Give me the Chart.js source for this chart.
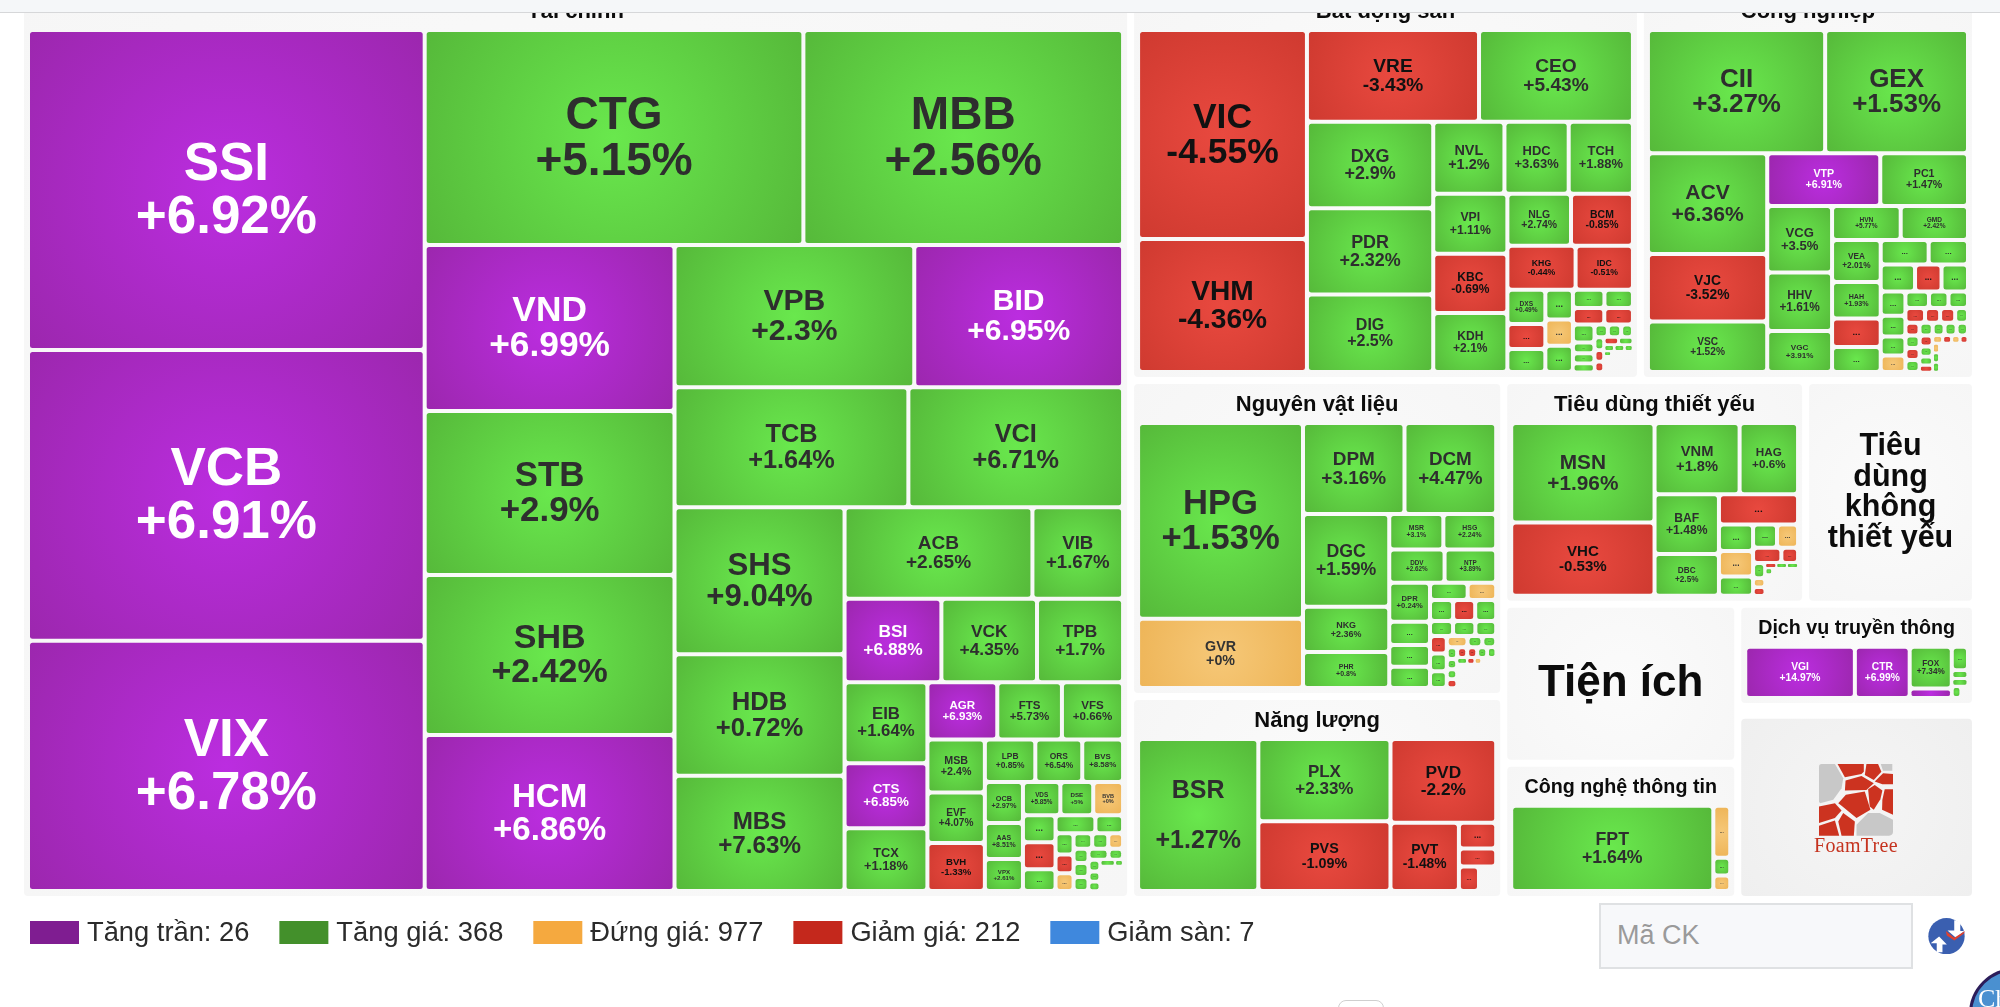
<!DOCTYPE html>
<html>
<head>
<meta charset="utf-8">
<title>Bản đồ thị trường</title>
<script src="https://cdn.jsdelivr.net/npm/chart.js@4/dist/chart.umd.min.js"></script>
<style>
  html, body { margin: 0; padding: 0; background: #fff; overflow: hidden; }
  #wrap { position: relative; width: 2000px; height: 1007px; overflow: hidden; font-family: "Liberation Sans", Arial, sans-serif; }
  #heatmap { position: absolute; left: 0; top: 0; }
  #search { position: absolute; left: 1599px; top: 903px; width: 310px; height: 62px; border: 2px solid #dfe1e3; background: #f7f8fa; color: #9a9a9a; font-size: 27px; line-height: 60px; text-indent: 16px; }
  #logo { position: absolute; left: 1819px; top: 763px; }
  #logoText { position: absolute; left: 1782px; width: 148px; top: 834px; text-align: center; color: #c5331f; font: 20px "Liberation Serif", serif; letter-spacing: 0.3px; }
  #brand { position: absolute; left: 1928px; top: 918px; }
  #chat { position: absolute; left: 1969px; top: 968px; width: 92px; height: 92px; box-sizing: border-box; border-radius: 50%; border: 3px solid #2c1d5a; background: #4a90d0; color: #fff; font: 26px "Liberation Serif", serif; padding: 13px 0 0 6px; }
  #stub { position: absolute; left: 1338px; top: 1000px; width: 44px; height: 20px; border: 1px solid #cfcfcf; border-radius: 8px; background: #fff; }
</style>
</head>
<body>
<div id="wrap">
  <canvas id="heatmap" width="2000" height="1007"></canvas>
  <svg id="logo" width="74" height="73" viewBox="57 40 223 218">
    <g fill="#c8c8c8">
      <path d="M57 50Q57 42 65 42L105 42L130 85L125 115L100 150L60 160L57 155Z"/>
      <path d="M243 42L278 42L278 62L250 62Z"/>
      <path d="M170 225L205 190L240 190L280 210L280 245Q280 258 268 258L170 258Z"/>
    </g>
    <g fill="#cc3320">
      <path d="M113 42L192 42L192 65L185 72L135 82Z"/>
      <path d="M200 42L235 42L245 65L222 90L195 75Z"/>
      <path d="M250 70L280 72L280 103L248 103L225 95Z"/>
      <path d="M137 92L185 78L222 100L200 120L135 122Z"/>
      <path d="M205 118L225 105L248 122L242 148L222 180L210 170Z"/>
      <path d="M255 118L280 118L280 195L247 180L248 150Z"/>
      <path d="M115 160L138 135L195 125L212 180L170 205L125 168Z"/>
      <path d="M57 170L105 160L125 182L105 205L57 220Z"/>
      <path d="M57 228L105 212L118 258L57 258Z"/>
      <path d="M130 190L165 215L162 258L125 258L115 215Z"/>
    </g>
  </svg>
  <div id="logoText">FoamTree</div>
  <div id="search">Mã CK</div>
  <svg id="brand" width="37" height="36" viewBox="22 33 110 107">
    <circle cx="77" cy="87" r="54" fill="#3a5fb0"/>
    <path d="M30 108L55 88L78 112L65 112L65 135L48 135L48 108Z" fill="#fff"/>
    <path d="M100 40L118 45L118 72L130 72L105 92L80 70L100 70Z" fill="#fff"/>
    <path d="M75 72L100 92L132 72L128 80L100 100L78 85Z" fill="#e0402f"/>
  </svg>
  <div id="stub"></div>
  <div id="chat">Ch</div>
</div>

<script>
// sectors, laid out by weight inside the plot bounds
const sectorTitles = ['Tài chính', 'Bất động sản', 'Công nghiệp', 'Nguyên vật liệu', 'Năng lượng', 'Tiêu dùng thiết yếu', 'Tiêu dùng không thiết yếu', 'Tiện ích', 'Công nghệ thông tin', 'Dịch vụ truyền thông', '', ''];
const sectorWeights = [10123, 2004, 1317, 1179, 757, 675, 380, 372, 319, 243, 21, 438];
const sectorSplits = [1, [2, [2, [2, [2, 3]]]]];

// each sector: tickers, % change, weight per cell, colour class per cell, split tree.
// cells past the end of the tickers list are the unlabelled "..." ones.
// p = tran, g = tang, o = dung, r = giam, x = empty space
const financeNames = ['SSI','VCB','VIX','CTG','MBB','VND','STB','SHB','HCM','VPB','BID','TCB','VCI','SHS','HDB','MBS','ACB','VIB','BSI','VCK','TPB','EIB','CTS','TCX','AGR','FTS','VFS','MSB','EVF','BVH','LPB','ORS','BVS','OCB','AAS','VPX','VDS','DSE','BVB'];
const financeChanges = [6.92,6.91,6.78,5.15,2.56,6.99,2.9,2.42,6.86,2.3,6.95,1.64,6.71,9.04,0.72,7.63,2.65,1.67,6.88,4.35,1.7,1.64,6.85,1.18,6.93,5.73,0.66,2.4,4.07,-1.33,0.85,6.54,8.58,2.97,8.51,2.61,5.85,5,0];
const financeWeights = [1270,1155,993,815,688,415,410,400,390,341,297,281,258,250,207,196,172,83,81,80,72,67,54,52,40,37,35,30.5,29,27.6,21.5,20,17.4,15.6,13.7,12.2,12.4,10.9,9.9,8.8,8.8,7.1,7.2,5,3.8,3.4,3.2,2.9,2.5,2.3,2.1,2.1,2.1,2.2,1.6,1.4,1.2,1.1,0.9,0.5,5.7];
const financeKinds = 'ppp gg pggp gp gg ggg gg pgg gpg pgg ggr ggg ggg ggo grg gg gro ggo ggg gg ggg ggx';
const financeTree = [3,[2,[4,[2,2,[3,[2,3,[3,[3,[3,[3,[3,[3,[3,[2,[3,[3,[3,[2,[3,[2,1]]]]]]]]]]]]]]]]]]]];

const realEstateNames = ['VIC','VHM','VRE','CEO','DXG','PDR','DIG','NVL','HDC','TCH','VPI','KBC','KDH','NLG','BCM','KHG','IDC','DXS'];
const realEstateChanges = [-4.55,-4.36,-3.43,5.43,2.9,2.32,2.5,1.2,3.63,1.88,1.11,-0.69,2.1,2.74,-0.85,-0.44,-0.51,0.49];
const realEstateWeights = [317,202,142,127,98,98,88,46,41.5,41.5,40,39.4,39.4,29.7,28.9,27,22.7,11.7,8.5,7.9,7.4,6.5,6.5,5.2,4.7,4.6,4.2,3.5,2.1,2,1.65,1.55,1.55,1.37,1.1,1,0.9,0.95,0.95,0.6,0.6,0.5,0.28,1,4.1];
const realEstateKinds = 'rr rg ggg ggg grg gr rr grg gog gg rr gggg ggg grr rg ggg gx x';
const realEstateTree = [2,[2,[3,[3,[3,[2,2,[3,3,[2,2,[4,[3,[3,[2,3,[2,1]]]]]]]]]]]]];

const industryNames = ['CII','GEX','ACV','VJC','VSC','VTP','PC1','VCG','HHV','VGC','HVN','GMD','VEA','HAH'];
const industryChanges = [3.27,1.53,6.36,-3.52,1.52,6.91,1.47,3.5,1.61,3.91,5.77,2.42,2.01,1.93];
const industryWeights = [196,158,108,72.4,54.2,53.6,41.6,38.8,34,24,21,20.6,18.3,16,12.4,11,10.6,8.7,8.3,6.4,6.4,5.4,4.6,4.2,3.7,3.5,2.9,2.9,2.6,2,2,1.7,1.6,1.5,1.35,1.37,1.3,1.6,1.5,1.55,1.3,1.2,1,0.8,0.7,0.63,0.59,0.56,0.58,0.58,0.58,7.4];
const industryKinds = 'gg grg pg ggg gg ggrg gg grg gggo ggg rrrg rgggg grg rggr oror oggx';
const industryTree = [[2,[3,[2,[3,[2,[4,[2,3,[4,[3,4,5,[3,4,[4,[3,1]]]]]]]]]]]]];

const materialsNames = ['HPG','GVR','DPM','DCM','DGC','NKG','PHR','MSR','HSG','DDV','NTP','DPR'];
const materialsChanges = [1.53,0,3.16,4.47,1.59,2.36,0.8,3.1,2.24,2.62,3.89,0.24];
const materialsWeights = [290,103,83,75,72,35,28,17.3,16.9,16.5,15.4,14.3,8.5,8,7.8,5.8,4.4,4.4,4.2,4,3.1,3,2.8,2.65,2.65,2.55,2.1,1.5,1.4,1.1,0.95,0.93,0.83,0.96,0.96,0.96,0.86,0.54,0.4,0.36,0.8,8.5];
const materialsKinds = 'go gg ggg gg gg gggg go grg ggg rgg ogg gggr rrgg grox x';
const materialsTree = [2,[2,[3,[2,2,[4,[2,3,3,[3,[3,[4,[4,4,1]]]]]]]]]];

const energyNames = ['BSR','PLX','PVS','PVD','PVT'];
const energyChanges = [1.27,2.33,-1.09,-2.2,-1.48];
const energyWeights = [182,108,92,88,46.6,9.6,6.7,4.9,4.2];
const energyKinds = 'ggrrrrrrx';
const energyTree = [1,2,[1,[1,[1,1,[1,1]]]]];

const staplesNames = ['MSN','VHC','VNM','HAG','BAF','DBC'];
const staplesChanges = [1.96,-0.53,1.8,0.6,1.48,2.5];
const staplesWeights = [128.6,94.7,54.7,37.6,34.7,24.2,21.6,8.1,7.9,5.9,5,4.4,3.9,2.3,1.65,1,0.92,0.5,0.48,0.5,0.44,1.54,6.24];
const staplesKinds = 'gr gg gg r gog go rr gor rgg gx x';
const staplesTree = [2,[2,[2,[1,[3,[2,2,[3,[3,[1,1],1]]]]]]]];

const techNames = ['FPT'];
const techChanges = [1.64];
const techWeights = [172,8.8,3,2.6];
const techKinds = 'gogo';
const techTree = [1,3];

const telecomNames = ['VGI','CTR','FOX'];
const telecomChanges = [14.97,6.99,7.34];
const telecomWeights = [50,25,15.7,3.5,3.4,1.2,1.1,1,0.7];
const telecomKinds = 'ppgpggggx';
const telecomTree = [1,1,2,[1,1,1,[1,1]]];

// sector title -> its cells
const sectorCells = {
  'Tài chính': [financeNames, financeChanges, financeWeights, financeKinds, financeTree],
  'Bất động sản': [realEstateNames, realEstateChanges, realEstateWeights, realEstateKinds, realEstateTree],
  'Công nghiệp': [industryNames, industryChanges, industryWeights, industryKinds, industryTree],
  'Nguyên vật liệu': [materialsNames, materialsChanges, materialsWeights, materialsKinds, materialsTree],
  'Năng lượng': [energyNames, energyChanges, energyWeights, energyKinds, energyTree],
  'Tiêu dùng thiết yếu': [staplesNames, staplesChanges, staplesWeights, staplesKinds, staplesTree],
  'Công nghệ thông tin': [techNames, techChanges, techWeights, techKinds, techTree],
  'Dịch vụ truyền thông': [telecomNames, telecomChanges, telecomWeights, telecomKinds, telecomTree],
};

const legendLabels = ['Tăng trần', 'Tăng giá', 'Đứng giá', 'Giảm giá', 'Giảm sàn'];
const legendCounts = [26, 368, 977, 212, 7];
const legendColors = ['#7f1d91', '#43902b', '#f5a93f', '#c4281c', '#3f88dd'];

const cellColors = {
  p: ['#bb2de0', '#9c27ae', '#fff'],
  g: ['#69e84d', '#56b93a', '#2e2e2e'],
  o: ['#f6c878', '#eeb558', '#333'],
  r: ['#e9493f', '#cf3a30', '#111'],
};

// build a weighted tree. integer n = n cells stacked across the parent, array = sub tree
function buildNode(spec, queue) {
  if (spec === 1) return queue.shift();
  const kids = Array.isArray(spec)
    ? spec.map(s => buildNode(s, queue))
    : Array.from({ length: spec }, () => queue.shift());
  return { kids, weight: kids.reduce((a, k) => a + k.weight, 0) };
}

function sliceNode(node, x, y, w, h, across, out) {
  if (!node.kids) {
    out.push({ ...node, x, y, w, h });
    return;
  }
  let pos = across ? x : y;
  node.kids.forEach(k => {
    const share = k.weight / node.weight;
    if (across) {
      sliceNode(k, pos, y, w * share, h, false, out);
      pos += w * share;
    } else {
      sliceNode(k, x, pos, w, h * share, true, out);
      pos += h * share;
    }
  });
}

function sectorLeaves(title) {
  const [names, changes, weights, kinds, tree] = sectorCells[title];
  const kindList = kinds.replace(/ /g, '');
  return { queue: weights.map((weight, i) => ({
    weight,
    name: names[i] || '...',
    change: changes[i],
    kind: kindList[i],
  })), tree };
}

function buildCells() {
  const queue = sectorTitles.map((title, i) => ({ weight: sectorWeights[i], title, index: i }));
  const root = buildNode(sectorSplits, queue);
  const rects = [];
  sliceNode(root, 20.5, -12.5, 1955, 912, true, rects);
  const panels = [];
  const cells = [];
  rects.forEach(r => {
    if (r.index === 10) return; // spacer above the logo panel
    const panel = { panel: true, title: r.title, x: r.x + 3.5, y: r.y + 3.5, w: r.w - 7, h: r.h - 7 };
    panels.push(panel);
    if (!sectorCells[r.title]) return;
    const { queue: leaves, tree } = sectorLeaves(r.title);
    const node = buildNode(tree, leaves);
    sliceNode(node, panel.x + 4, panel.y + 39, panel.w - 8, panel.h - 44, true, cells);
  });
  return panels.concat(cells.filter(c => c.kind !== 'x'));
}

function roundedPath(ctx, x, y, w, h, r) {
  ctx.beginPath();
  ctx.roundRect(x, y, w, h, r);
}

class HeatCell extends Chart.Element {
  draw(ctx) {
    if (this.panel) this.drawPanel(ctx);
    else this.drawCell(ctx);
  }

  drawPanel(ctx) {
    const { left, top, width, height, title } = this;
    const cx = left + width / 2;
    const cy = top + height / 2;
    const g = ctx.createRadialGradient(cx, cy, 0, cx, cy, Math.hypot(width, height) / 2);
    const logoPanel = title === '';
    g.addColorStop(0, logoPanel ? '#f5f5f5' : '#fbfbfb');
    g.addColorStop(1, logoPanel ? '#efefef' : '#f6f6f6');
    ctx.fillStyle = g;
    roundedPath(ctx, left, top, width, height, 4);
    ctx.fill();
    ctx.fillStyle = '#0c0c0c';
    ctx.textAlign = 'center';
    ctx.textBaseline = 'middle';
    if (title === 'Tiện ích') {
      ctx.font = 'bold 44px "Liberation Sans"';
      ctx.fillText(title, cx, cy);
    } else if (title === 'Tiêu dùng không thiết yếu') {
      ctx.font = 'bold 30.5px "Liberation Sans"';
      ['Tiêu', 'dùng', 'không', 'thiết yếu'].forEach((line, i) => ctx.fillText(line, cx, cy + (i - 1.5) * 30.5));
    } else if (title) {
      // the narrow panels on the right carry a smaller title
      ctx.font = `bold ${width < 240 ? 19.7 : 22}px "Liberation Sans"`;
      ctx.fillText(title, cx, top + 21);
    }
  }

  drawCell(ctx) {
    const { kind, name, change } = this;
    const inset = Math.min(2, this.width * 0.2, this.height * 0.2);
    const x = this.left + inset;
    const y = this.top + inset;
    const w = this.width - inset * 2;
    const h = this.height - inset * 2;
    const [inner, outer, ink] = cellColors[kind];
    const cx = x + w / 2;
    const cy = y + h / 2;
    const g = ctx.createRadialGradient(cx, cy, 0, cx, cy, Math.hypot(w, h) / 2);
    g.addColorStop(0, inner);
    g.addColorStop(1, outer);
    ctx.fillStyle = g;
    roundedPath(ctx, x, y, w, h, Math.min(2.5, Math.min(w, h) / 3));
    ctx.fill();

    ctx.fillStyle = ink;
    ctx.textAlign = 'center';
    ctx.textBaseline = 'middle';
    if (change === undefined) {
      const small = Math.min(w, h);
      if (small < 6) return;
      ctx.font = `bold ${Math.min(12, Math.max(3, small * 0.38))}px "Liberation Sans"`;
      ctx.fillText('...', cx, cy);
      return;
    }
    const size = Math.min(w * 0.215, h * 0.218, 53);
    // tall narrow cells spread the two lines apart
    const spread = h / w > 1.25 ? size * 2 : size;
    const mid = cy + size * 0.03;
    ctx.font = `bold ${size}px "Liberation Sans"`;
    ctx.fillText(name, cx, mid - spread / 2);
    ctx.fillText(`${change >= 0 ? '+' : ''}${change}%`, cx, mid + spread / 2);
  }
}
HeatCell.id = 'heatCell';
HeatCell.defaults = {};

class HeatmapController extends Chart.DatasetController {
  update(mode) {
    const meta = this._cachedMeta;
    this.updateElements(meta.data, 0, meta.data.length, mode);
  }

  updateElements(elements, start, count) {
    const { xScale, yScale } = this._cachedMeta;
    const data = this.getDataset().data;
    for (let i = start; i < start + count; i++) {
      const c = data[i];
      const left = xScale.getPixelForValue(c.x);
      const top = yScale.getPixelForValue(c.y);
      Object.assign(elements[i], c, {
        left,
        top,
        width: xScale.getPixelForValue(c.x + c.w) - left,
        height: yScale.getPixelForValue(c.y + c.h) - top,
      });
    }
  }
}
HeatmapController.id = 'heatmap';
HeatmapController.defaults = { dataElementType: 'heatCell' };

Chart.register(HeatmapController, HeatCell);

const pageChrome = {
  id: 'pageChrome',
  beforeDraw(chart) {
    const ctx = chart.ctx;
    ctx.fillStyle = '#fff';
    ctx.fillRect(0, 0, chart.width, chart.height);
  },
  afterDraw(chart) {
    const ctx = chart.ctx;
    // page header covers the top of the top row titles
    ctx.fillStyle = '#f5f7f9';
    ctx.fillRect(0, 0, chart.width, 12);
    ctx.fillStyle = '#d6d7d9';
    ctx.fillRect(0, 12, chart.width, 1);

    let x = 30;
    ctx.font = '27.3px "Liberation Sans"';
    ctx.textAlign = 'left';
    ctx.textBaseline = 'middle';
    legendLabels.forEach((label, i) => {
      const text = `${label}: ${legendCounts[i]}`;
      ctx.fillStyle = legendColors[i];
      ctx.fillRect(x, 921, 49, 23);
      ctx.fillStyle = '#2b2b2b';
      ctx.fillText(text, x + 57, 933);
      x += 57 + ctx.measureText(text).width + 30;
    });
  },
};

new Chart(document.getElementById('heatmap'), {
  type: 'heatmap',
  data: { datasets: [{ data: buildCells(), parsing: false }] },
  options: {
    responsive: false,
    animation: false,
    devicePixelRatio: 1,
    events: [],
    layout: { padding: 0 },
    plugins: { legend: { display: false }, tooltip: { enabled: false } },
    scales: {
      x: { type: 'linear', min: 0, max: 2000, display: false },
      y: { type: 'linear', min: 0, max: 1007, reverse: true, display: false },
    },
  },
  plugins: [pageChrome],
});
</script>
</body>
</html>
